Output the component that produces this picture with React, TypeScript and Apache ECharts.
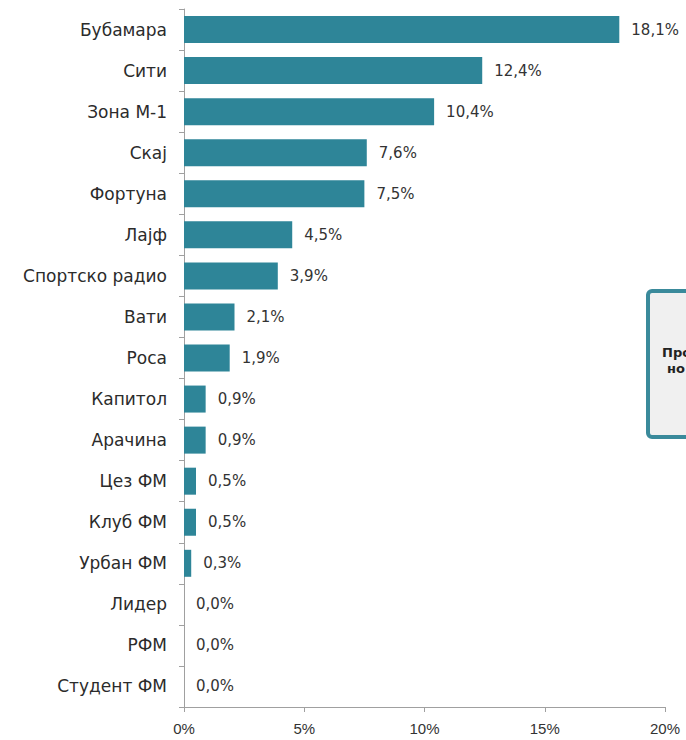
import React, { useEffect, useRef } from "react";
import * as echarts from "echarts";

const categories = [
  "Бубамара", "Сити", "Зона М-1", "Скај", "Фортуна", "Лајф", "Спортско радио",
  "Вати", "Роса", "Капитол", "Арачина", "Цез ФМ", "Клуб ФМ", "Урбан ФМ",
  "Лидер", "РФМ", "Студент ФМ",
];
const shares = [18.1, 12.4, 10.4, 7.6, 7.5, 4.5, 3.9, 2.1, 1.9, 0.9, 0.9, 0.5, 0.5, 0.3, 0.0, 0.0, 0.0];
const boxLines = ["Про", "но"];

export default function App() {
  const ref = useRef<HTMLDivElement>(null);
  useEffect(() => {
    if (!ref.current) return;
    const chart = echarts.init(ref.current, null, { renderer: "svg" });
    chart.setOption({
      animation: false,
      backgroundColor: "#ffffff",
      grid: { left: 184, right: 21, top: 9, bottom: 33, containLabel: false },
      xAxis: {
        type: "value",
        min: 0,
        max: 20,
        interval: 5,
        axisLine: { show: true, lineStyle: { color: "#a0a0a0", width: 1 } },
        axisTick: { show: true, length: 5, lineStyle: { color: "#a0a0a0" } },
        splitLine: { show: false },
        axisLabel: {
          formatter: "{value}%",
          color: "#333",
          fontSize: 15,
          fontFamily: "Liberation Sans",
          margin: 14,
        },
      },
      yAxis: {
        type: "category",
        inverse: true,
        data: categories,
        axisLine: { show: true, lineStyle: { color: "#a0a0a0", width: 1 } },
        axisTick: { show: true, length: 5, lineStyle: { color: "#a0a0a0" } },
        axisLabel: {
          color: "#2b2b2b",
          fontSize: 17,
          fontFamily: "DejaVu Sans",
          margin: 17,
        },
      },
      series: [
        {
          type: "bar",
          data: shares,
          barWidth: 27,
          itemStyle: { color: "#2e8598" },
          label: {
            show: true,
            position: "right",
            distance: 12,
            color: "#333",
            fontSize: 15,
            fontFamily: "DejaVu Sans",
            formatter: (p: any) => p.value.toFixed(1).replace(".", ",") + "%",
          },
        },
      ],
      graphic: [
        {
          type: "rect",
          shape: { x: 648, y: 291, width: 70, height: 146, r: 4 },
          style: { fill: "#f0f0f0", stroke: "#3a8a9b", lineWidth: 4 },
        },
        {
          type: "text",
          x: 662,
          y: 352,
          style: {
            text: boxLines[0],
            fill: "#222",
            font: "bold 13px 'DejaVu Sans'",
            textVerticalAlign: "middle",
          },
        },
        {
          type: "text",
          x: 667,
          y: 368,
          style: {
            text: boxLines[1],
            fill: "#222",
            font: "bold 13px 'DejaVu Sans'",
            textVerticalAlign: "middle",
          },
        },
      ],
    });
    return () => chart.dispose();
  }, []);
  return (
    <div
      ref={ref}
      style={{ position: "fixed", left: 0, top: 0, width: 686, height: 740, overflow: "hidden" }}
    />
  );
}
